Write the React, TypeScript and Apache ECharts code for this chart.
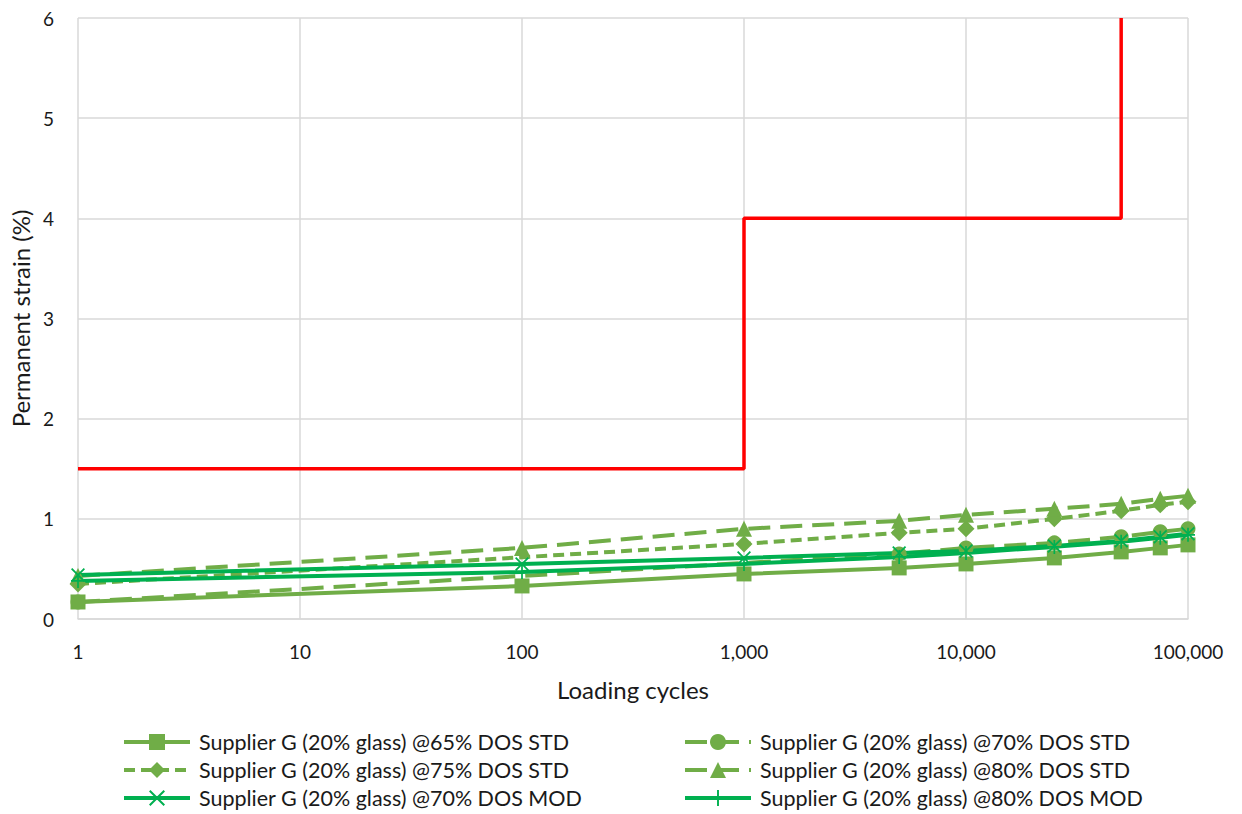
import React, { useEffect, useRef } from "react";
import * as echarts from "echarts";

// Loading cycles at which strain readings were taken
const cyclesFull = [1, 100, 1000, 5000, 10000, 25000, 50000, 75000, 100000];
const cyclesNo100 = [1, 1000, 5000, 10000, 25000, 50000, 75000, 100000];
const cyclesCircle = [1, 5000, 10000, 25000, 50000, 75000, 100000];

// Permanent strain (%) per specimen
const std65 = [0.17, 0.33, 0.45, 0.51, 0.55, 0.61, 0.67, 0.71, 0.74];
const std70 = [0.17, 0.65, 0.71, 0.76, 0.82, 0.87, 0.9];
const std75 = [0.35, 0.75, 0.86, 0.9, 1.0, 1.08, 1.14, 1.17];
const std80 = [0.43, 0.71, 0.9, 0.98, 1.04, 1.1, 1.15, 1.2, 1.23];
const mod70 = [0.44, 0.55, 0.61, 0.66, 0.68, 0.73, 0.78, 0.82, 0.85];
const mod80 = [0.38, 0.47, 0.55, 0.62, 0.66, 0.72, 0.77, 0.81, 0.84];

// Limit criterion (step line)
const limitCycles = [1, 1000, 1000, 50000, 50000];
const limitStrain = [1.5, 1.5, 4, 4, 6];

const names = [
  "Supplier G (20% glass) @65% DOS STD",
  "Supplier G (20% glass) @70% DOS STD",
  "Supplier G (20% glass) @75% DOS STD",
  "Supplier G (20% glass) @80% DOS STD",
  "Supplier G (20% glass) @70% DOS MOD",
  "Supplier G (20% glass) @80% DOS MOD",
];

const STD_GREEN = "#70AD47";
const MOD_GREEN = "#00B050";
const FONT = "Lato";
const TEXT = "#1a1a1a";
const LONG_DASH = [22, 10];
const SHORT_DASH = [11, 6];

const X_SYMBOL =
  "path://M0,0.9L0.9,0L5,4.1L9.1,0L10,0.9L5.9,5L10,9.1L9.1,10L5,5.9L0.9,10L0,9.1L4.1,5Z";
const PLUS_SYMBOL =
  "path://M4.4,0H5.6V4.4H10V5.6H5.6V10H4.4V5.6H0V4.4H4.4Z";

const zip = (xs: number[], ys: number[]) => xs.map((x, i) => [x, ys[i]]);

export default function App() {
  const ref = useRef<HTMLDivElement>(null);

  useEffect(() => {
    document.body.style.margin = "0";
    if (!ref.current) return;
    const chart = echarts.init(ref.current, undefined, { renderer: "svg" });

    const mk = (
      name: string,
      xs: number[],
      ys: number[],
      color: string,
      symbol: string,
      symbolSize: number,
      dash: number[] | "solid"
    ) => ({
      name,
      type: "line",
      data: zip(xs, ys),
      symbol,
      symbolSize,
      showSymbol: true,
      lineStyle: { color, width: 4, type: dash, cap: "butt" },
      itemStyle: { color, borderWidth: 0 },
      emphasis: { disabled: true },
      z: 3,
    });

    const legendPos = [
      [122, 731],
      [683, 731],
      [122, 759],
      [683, 759],
      [122, 787],
      [683, 787],
    ];

    chart.setOption({
      animation: false,
      textStyle: { fontFamily: FONT },
      grid: { left: 77, right: 54, top: 18, bottom: 195 },
      xAxis: {
        type: "log",
        logBase: 10,
        min: 1,
        max: 100000,
        name: "Loading cycles",
        nameLocation: "middle",
        nameGap: 58,
        nameTextStyle: { fontSize: 24, color: TEXT, fontFamily: FONT },
        axisLine: { lineStyle: { color: "#D9D9D9", width: 1.5 } },
        axisTick: { show: false },
        axisLabel: {
          fontSize: 19,
          color: TEXT,
          margin: 23,
          formatter: (v: number) => Math.round(v).toLocaleString("en-US"),
        },
        splitLine: { show: true, lineStyle: { color: "#D9D9D9", width: 1.5 } },
        minorTick: { show: false },
      },
      yAxis: {
        type: "value",
        min: 0,
        max: 6,
        interval: 1,
        name: "Permanent strain (%)",
        nameLocation: "middle",
        nameGap: 46,
        nameTextStyle: { fontSize: 24, color: TEXT, fontFamily: FONT },
        axisLine: { show: false },
        axisTick: { show: false },
        axisLabel: { fontSize: 19, color: TEXT, margin: 24 },
        splitLine: { lineStyle: { color: "#D9D9D9", width: 1.5 } },
      },
      legend: names.map((n, i) => ({
        data: [n],
        left: legendPos[i][0],
        top: legendPos[i][1],
        itemWidth: 66,
        itemHeight: 20,
        itemGap: 0,
        padding: 0,
        selectedMode: false,
        lineStyle: { width: 4 },
        textStyle: { fontSize: 21.5, color: TEXT, fontFamily: FONT, padding: [0, 0, 0, 4] },
      })),
      series: [
        mk(names[0], cyclesFull, std65, STD_GREEN, "rect", 15, "solid"),
        mk(names[1], cyclesCircle, std70, STD_GREEN, "circle", 15, LONG_DASH),
        mk(names[2], cyclesNo100, std75, STD_GREEN, "diamond", 17, SHORT_DASH),
        mk(names[3], cyclesFull, std80, STD_GREEN, "triangle", 16, LONG_DASH),
        mk(names[4], cyclesFull, mod70, MOD_GREEN, X_SYMBOL, 14, "solid"),
        mk(names[5], cyclesFull, mod80, MOD_GREEN, PLUS_SYMBOL, 14, "solid"),
        {
          name: "limit",
          type: "line",
          data: zip(limitCycles, limitStrain),
          symbol: "none",
          lineStyle: { color: "#FF0000", width: 3.5 },
          emphasis: { disabled: true },
          z: 4,
        },
      ],
    });

    return () => chart.dispose();
  }, []);

  return <div ref={ref} style={{ width: 1242, height: 814 }} />;
}
